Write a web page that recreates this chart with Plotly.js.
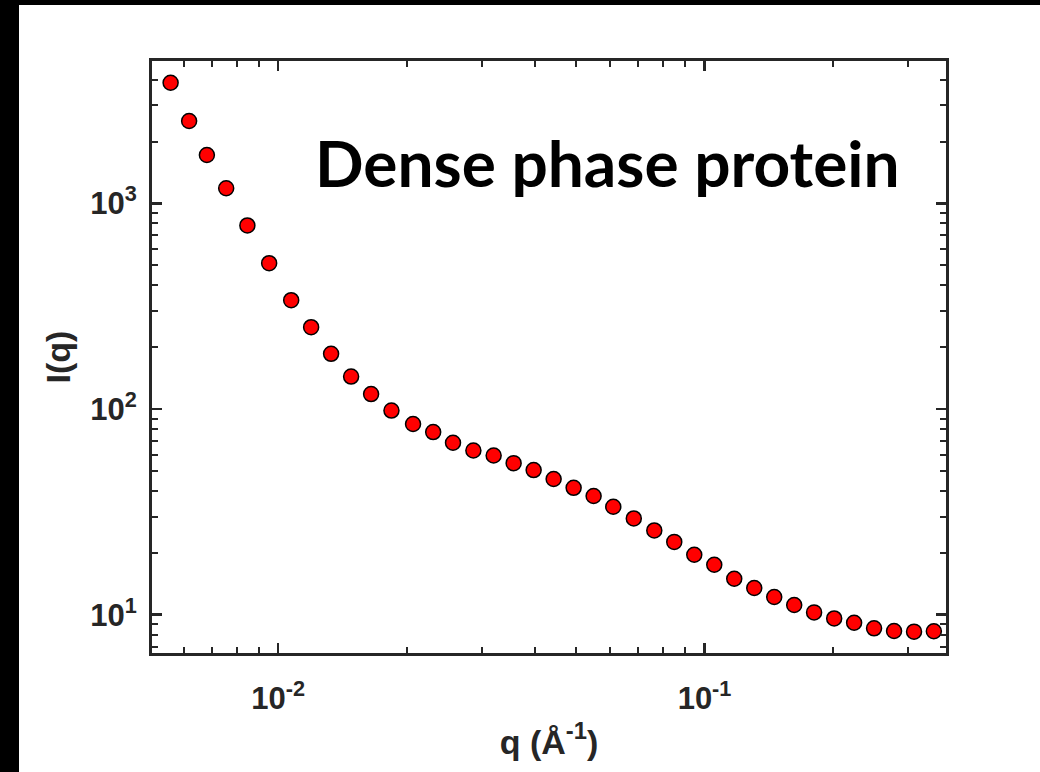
<!DOCTYPE html>
<html>
<head>
<meta charset="utf-8">
<script src="https://cdn.plot.ly/plotly-3.0.1.min.js"></script>
<style>
html,body{margin:0;padding:0;background:#000;width:1040px;height:772px;overflow:hidden;}
#chart{position:absolute;left:19px;top:5px;width:1021px;height:767px;background:#fff;}
</style>
</head>
<body>
<div id="chart"></div>
<script>
// Scattering vector q (1/Å)
const q = [0.005595, 0.006183, 0.006806, 0.007553, 0.008469, 0.009526, 0.01073, 0.01195, 0.01331, 0.01483,
  0.01652, 0.01844, 0.02072, 0.02310, 0.02571, 0.02870, 0.03202, 0.03567, 0.03974, 0.04427,
  0.04932, 0.05494, 0.06109, 0.06825, 0.07624, 0.08492, 0.09461, 0.1054, 0.1174, 0.1308,
  0.1457, 0.1623, 0.1807, 0.2014, 0.2243, 0.2498, 0.2783, 0.3100, 0.3450];
// Intensity I(q)
const intensity = [3870, 2521, 1723, 1187, 782.6, 512.7, 338.8, 250.3, 185.7, 144.0,
  118.3, 98.4, 84.6, 77.3, 68.6, 62.9, 59.5, 54.6, 50.5, 45.7,
  41.4, 37.8, 33.5, 29.4, 25.7, 22.6, 19.57, 17.50, 14.96, 13.48,
  12.19, 11.15, 10.26, 9.59, 9.14, 8.58, 8.33, 8.27, 8.31];
const xRange = [0.00506, 0.3684];
const yRange = [6.51, 4936];
const xTickVals = [0.01, 0.1];
const xTickText = ['10<sup>-2</sup>', '10<sup>-1</sup>'];
const yTickVals = [10, 100, 1000];
const yTickText = ['10<sup>1</sup>', '10<sup>2</sup>', '10<sup>3</sup>'];
const label = 'Dense phase protein';

const axisColor = '#262626';
const fam = 'Liberation Sans, Arial, sans-serif';
const tickFont = {family: fam, size: 31, color: axisColor, weight: 'bold'};

const trace = {
  x: q, y: intensity, type: 'scatter', mode: 'markers',
  marker: {size: 15, color: '#ff0000', line: {color: '#000000', width: 1.5}},
  hoverinfo: 'skip'
};

const commonAxis = {
  type: 'log', showline: true, linewidth: 3, linecolor: axisColor, mirror: 'allticks',
  ticks: 'inside', ticklen: 10, tickwidth: 2.5, tickcolor: axisColor,
  showgrid: false, zeroline: false, tickmode: 'array',
  tickfont: tickFont,
  minor: {ticks: 'inside', ticklen: 6, tickwidth: 2, tickcolor: axisColor, showgrid: false, dtick: 'D1'}
};

const layout = {
  width: 1021, height: 767,
  paper_bgcolor: '#ffffff', plot_bgcolor: '#ffffff',
  margin: {l: 133, r: 94, t: 56, b: 119},
  showlegend: false,
  xaxis: Object.assign({}, commonAxis, {
    range: [Math.log10(xRange[0]), Math.log10(xRange[1])],
    tickvals: xTickVals, ticktext: xTickText, ticklabelstandoff: 16,
    title: {text: 'q (Å<sup>-1</sup>)', font: {family: fam, size: 34, color: axisColor, weight: 'bold'}, standoff: 15}
  }),
  yaxis: Object.assign({}, commonAxis, {
    range: [Math.log10(yRange[0]), Math.log10(yRange[1])],
    tickvals: yTickVals, ticktext: yTickText, ticklabelstandoff: 6,
    title: {text: 'I(q)', font: {family: fam, size: 34, color: axisColor, weight: 'bold'}, standoff: 10}
  }),
  annotations: [{
    text: label, xref: 'paper', yref: 'paper', x: 0.574, y: 0.829,
    xanchor: 'center', yanchor: 'middle', showarrow: false,
    font: {family: 'Lato, Inter, sans-serif', size: 64, color: '#000000', weight: 'bold'}
  }]
};

Plotly.newPlot('chart', [trace], layout, {displayModeBar: false, staticPlot: true});
</script>
</body>
</html>
